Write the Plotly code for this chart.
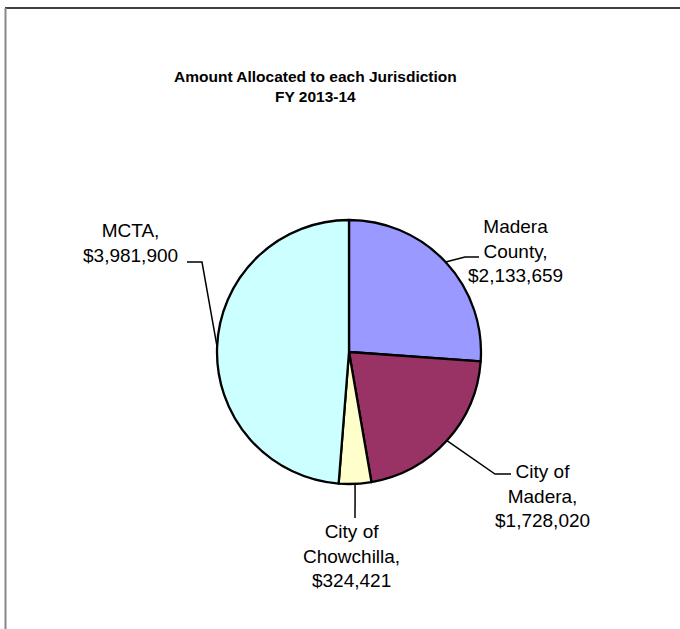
import plotly.graph_objects as go
import math

# ---- data ----
categories = ["Madera County", "City of Madera", "City of Chowchilla", "MCTA"]
values = [2133659, 1728020, 324421, 3981900]
label_lines = [
    ["Madera", "County,", "$2,133,659"],
    ["City of", "Madera,", "$1,728,020"],
    ["City of", "Chowchilla,", "$324,421"],
    ["MCTA,", "$3,981,900"],
]
colors = ["#9999FF", "#993366", "#FFFFCC", "#CCFFFF"]

W, H = 680, 629
CX, CY, R = 349, 352, 132


def px(x):
    return x / W


def py(y):
    return 1 - y / H


fig = go.Figure()
fig.add_trace(go.Pie(
    labels=categories, values=values, sort=False, direction="clockwise",
    rotation=0, marker=dict(colors=colors, line=dict(color="black", width=2.3)),
    textinfo="none", hoverinfo="label+value", showlegend=False,
    domain=dict(x=[px(CX - R), px(CX + R)], y=[py(CY + R), py(CY - R)]),
))

# label block centres and leader-line elbows (layout, in pixels)
label_pos = [(515, 251), (542, 496), (351, 556), (130, 243)]
elbows = [
    [(465, 257), (479, 257)],
    [(495, 474), (511, 474)],
    [(355, 518)],
    [(202, 262), (187, 262)],
]

total = sum(values)
cum = 0
shapes = []
annotations = []
for i, v in enumerate(values):
    mid = (cum + v / 2) / total * 2 * math.pi
    cum += v
    ex = CX + R * math.sin(mid)
    ey = CY - R * math.cos(mid)
    pts = [(ex, ey)] + elbows[i]
    path = "M " + " L ".join(f"{px(a)},{py(b)}" for a, b in pts)
    shapes.append(dict(type="path", xref="paper", yref="paper", path=path,
                       line=dict(color="black", width=1.5)))
    lx, ly = label_pos[i]
    annotations.append(dict(
        x=px(lx), y=py(ly), xref="paper", yref="paper", showarrow=False,
        text="<br>".join(label_lines[i]), align="center",
        xanchor="center", yanchor="middle",
        font=dict(family="Liberation Sans, Arial", size=19, color="black")))

annotations.append(dict(
    x=px(315), y=py(87), xref="paper", yref="paper", showarrow=False,
    text="<b>Amount Allocated to each Jurisdiction<br>FY 2013-14</b>",
    align="center", xanchor="center", yanchor="middle",
    font=dict(family="Liberation Sans, Arial", size=15.5, color="black")))

# chart frame
shapes.append(dict(type="line", xref="paper", yref="paper",
                   x0=px(5), x1=1, y0=py(8), y1=py(8),
                   line=dict(color="black", width=1.5)))
shapes.append(dict(type="line", xref="paper", yref="paper",
                   x0=px(5.5), x1=px(5.5), y0=py(8), y1=py(629),
                   line=dict(color="#888888", width=2)))

fig.update_layout(
    width=W, height=H, margin=dict(l=0, r=0, t=0, b=0),
    paper_bgcolor="white", plot_bgcolor="white",
    shapes=shapes, annotations=annotations, showlegend=False,
)

fig.write_html("out.html", config={"displayModeBar": False},
               post_script="document.body.style.margin='0';")
